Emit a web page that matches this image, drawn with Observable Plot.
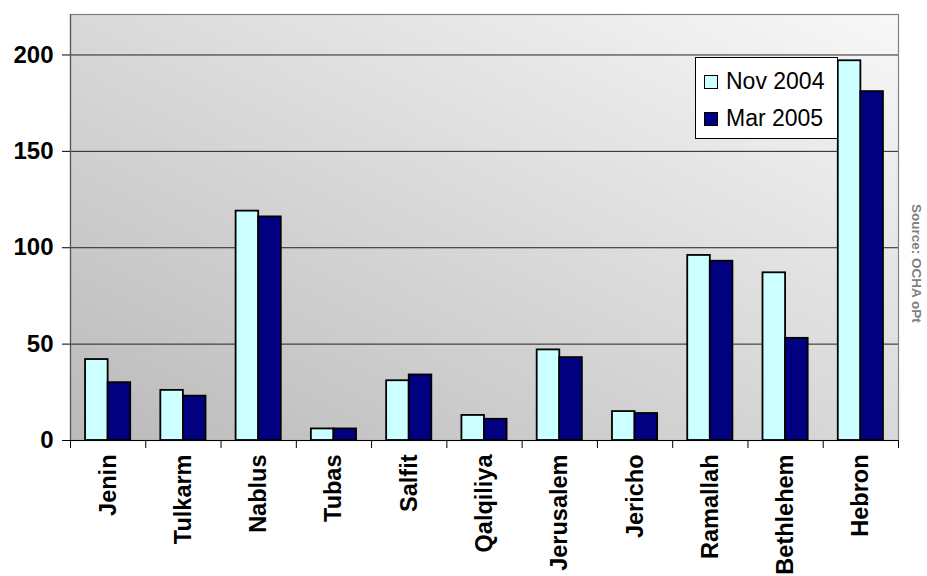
<!DOCTYPE html>
<html>
<head>
<meta charset="utf-8">
<script src="https://cdn.jsdelivr.net/npm/d3@7"></script>
<script src="https://cdn.jsdelivr.net/npm/@observablehq/plot@0.6"></script>
<style>
  body { margin: 0; background: #fff; font-family: "Liberation Sans", Arial, sans-serif; }
  #wrap { position: relative; width: 927px; height: 576px; }
  #legend { position: absolute; left: 695px; top: 57px; width: 141px; height: 80px;
    background: #fff; border: 1px solid #000; font-size: 23px; color: #000; }
  .item { position: absolute; left: 8px; display: flex; align-items: center; white-space: nowrap; }
  .sw { width: 12px; height: 12px; border: 1px solid #000; margin-right: 8px; }
  #source { position: absolute; left: 909px; top: 204px; writing-mode: vertical-rl;
    font-size: 13.5px; font-weight: bold; color: #808080; white-space: nowrap; }
</style>
</head>
<body>
<div id="wrap">
  <div id="chart"></div>
  <div id="legend"></div>
  <div id="source">Source: OCHA oPt</div>
</div>
<script>
const districts = ["Jenin","Tulkarm","Nablus","Tubas","Salfit","Qalqiliya","Jerusalem","Jericho","Ramallah","Bethlehem","Hebron"];
const seriesNames = ["Nov 2004","Mar 2005"];
const nov2004 = [42, 26, 119, 6, 31, 13, 47, 15, 96, 87, 197];
const mar2005 = [30, 23, 116, 6, 34, 11, 43, 14, 93, 53, 181];
const yTicks = [0, 50, 100, 150, 200];
const colors = ["#ccffff", "#000080"];

const data = [];
districts.forEach((d, i) => {
  data.push({district: d, i, series: seriesNames[0], s: 0, value: nov2004[i]});
  data.push({district: d, i, series: seriesNames[1], s: 1, value: mar2005[i]});
});

// group layout within each category slot (fractions of a slot)
const groupStart = 0.2, barFrac = 0.3;

const chart = Plot.plot({
  width: 927,
  height: 576,
  marginLeft: 70,
  marginRight: 29,
  marginTop: 14,
  marginBottom: 136,
  style: {fontFamily: "'Liberation Sans', Arial, sans-serif", background: "transparent"},
  x: {domain: [0, districts.length], label: null},
  y: {domain: [0, 221], label: null},
  color: {domain: seriesNames, range: colors},
  marks: [
    Plot.frame({fill: "url(#bgGrad)", stroke: null}),
    Plot.gridY(yTicks, {stroke: "#222", strokeOpacity: 1, strokeWidth: 1}),
    Plot.frame({stroke: "#808080", strokeWidth: 1.2}),
    Plot.rectY(data, {
      x1: d => d.i + groupStart + d.s * barFrac,
      x2: d => d.i + groupStart + (d.s + 1) * barFrac,
      y1: 0,
      y2: "value",
      fill: "series",
      stroke: "#000",
      strokeWidth: 1.8
    }),
    Plot.ruleX([0], {stroke: "#555", strokeWidth: 1.2}),
    Plot.ruleY([0], {stroke: "#000", strokeWidth: 1.2}),
    Plot.axisY({ticks: yTicks, tickSize: 8, tickPadding: 9, fontSize: 24, fontWeight: "bold", label: null}),
    Plot.axisX({ticks: d3.range(districts.length + 1), tickSize: 8, tickFormat: () => "", label: null}),
    Plot.axisX({
      ticks: districts.map((d, i) => i + 0.5),
      tickFormat: v => districts[Math.floor(v)],
      tickSize: 0, tickPadding: 14, tickRotate: -90,
      fontSize: 23.5, fontWeight: "bold", label: null
    })
  ]
});

const svg = d3.select(chart);
const defs = svg.insert("defs", ":first-child");
const g = defs.append("linearGradient").attr("id", "bgGrad")
  .attr("x1", 0).attr("y1", 1).attr("x2", 1).attr("y2", 0);
g.append("stop").attr("offset", "0%").attr("stop-color", "#bababa");
g.append("stop").attr("offset", "100%").attr("stop-color", "#f8f8f8");

document.getElementById("chart").appendChild(chart);

const legend = document.getElementById("legend");
seriesNames.forEach((name, k) => {
  const it = document.createElement("div");
  it.className = "item";
  it.style.top = (k === 0 ? 10 : 47) + "px";
  const sw = document.createElement("div");
  sw.className = "sw";
  sw.style.background = colors[k];
  const tx = document.createElement("span");
  tx.textContent = name;
  it.appendChild(sw);
  it.appendChild(tx);
  legend.appendChild(it);
});
</script>
</body>
</html>
